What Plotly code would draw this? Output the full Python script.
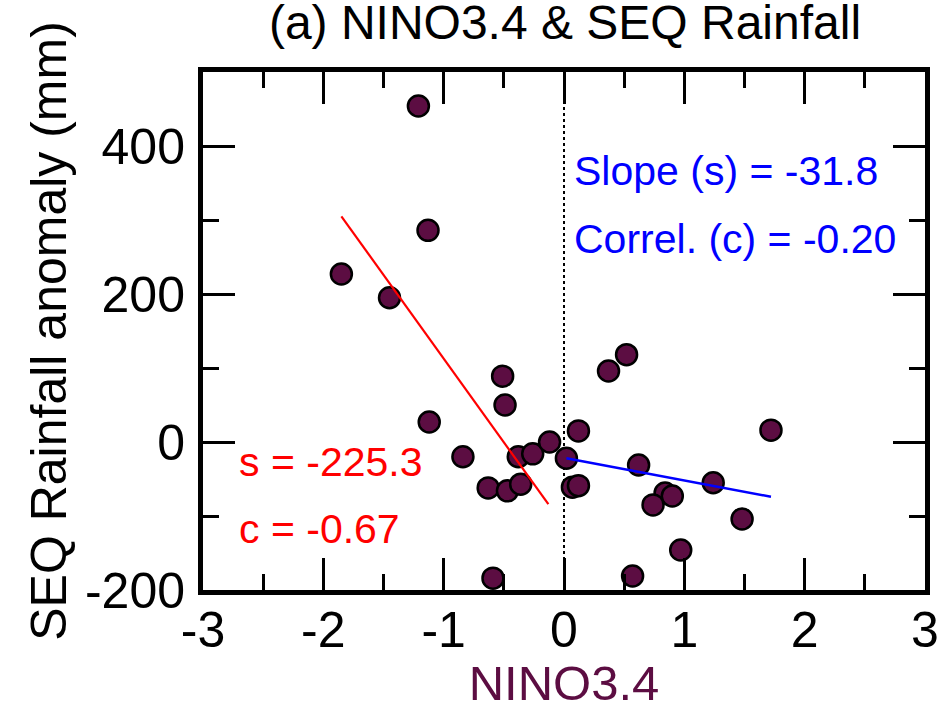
import plotly.graph_objects as go

# Data
nino34 = [-1.21, -1.13, -1.85, -1.45, -1.12, -0.51, -0.49, -0.84, -0.63, -0.47,
          -0.36, -0.38, -0.26, -0.12, 0.02, 0.12, 0.07, 0.12, -0.59, 0.52,
          0.37, 0.62, 1.24, 0.84, 0.90, 0.74, 1.48, 0.97, 0.57, 1.72]
rain = [454, 286, 227, 195, 27, 89, 50, -20, -62, -66,
        -57, -20, -16, 0, -22, 15, -61, -59, -184, 118,
        96, -31, -55, -69, -73, -85, -104, -146, -181, 16]

# Regression line endpoints (La Nina side red, El Nino side blue)
neg_fit_x = [-1.85, -0.13]
neg_fit_y = [305, -84]
pos_fit_x = [0.02, 1.72]
pos_fit_y = [-22, -74]

zero_x = [0, 0]
zero_y = [-200, 460]

xticks = [-3, -2, -1, 0, 1, 2, 3]
yticks = [-200, 0, 200, 400]

FONT = "Liberation Sans, Arial, Helvetica, sans-serif"
PURPLE = "#5c0d42"

fig = go.Figure()
fig.add_trace(go.Scatter(x=zero_x, y=zero_y, mode="lines",
                         line=dict(color="black", width=2, dash="dot"),
                         showlegend=False, hoverinfo="skip"))
fig.add_trace(go.Scatter(x=nino34, y=rain, mode="markers",
                         marker=dict(size=21, color=PURPLE,
                                     line=dict(color="black", width=2.5)),
                         showlegend=False))
fig.add_trace(go.Scatter(x=neg_fit_x, y=neg_fit_y, mode="lines",
                         line=dict(color="#ff0000", width=2.2), showlegend=False))
fig.add_trace(go.Scatter(x=pos_fit_x, y=pos_fit_y, mode="lines",
                         line=dict(color="#0000ff", width=2.5), showlegend=False))

ann_font = dict(family=FONT, size=41)
fig.add_annotation(x=0.07, y=366, text="Slope (s) = -31.8", showarrow=False,
                   xanchor="left", yanchor="middle", font=dict(ann_font, color="#0000ff"))
fig.add_annotation(x=0.07, y=274, text="Correl. (c) = -0.20", showarrow=False,
                   xanchor="left", yanchor="middle", font=dict(ann_font, color="#0000ff"))
fig.add_annotation(x=-2.72, y=-27, text="s = -225.3", showarrow=False,
                   xanchor="left", yanchor="middle", font=dict(ann_font, color="#ff0000"))
fig.add_annotation(x=-2.72, y=-118, text="c = -0.67", showarrow=False,
                   xanchor="left", yanchor="middle", font=dict(ann_font, color="#ff0000"))

fig.update_layout(
    width=942, height=710,
    margin=dict(l=203, r=17, t=72, b=120, autoexpand=False),
    paper_bgcolor="white", plot_bgcolor="white",
    font=dict(family=FONT, color="black"),
    title=dict(text="(a) NINO3.4 & SEQ Rainfall", x=565 / 942, xanchor="center",
               y=1 - 22 / 710, yanchor="middle", yref="container",
               font=dict(family=FONT, size=48, color="black")),
)
fig.update_xaxes(
    range=[-3, 3], tickvals=xticks, ticktext=[str(v) for v in xticks],
    showgrid=False, zeroline=False, automargin=False,
    showline=True, linecolor="black", linewidth=5, mirror="allticks",
    ticks="inside", ticklen=32, tickwidth=2.5, tickcolor="black",
    minor=dict(dtick=0.5, tick0=0, ticks="inside", ticklen=16, tickwidth=2.5, tickcolor="black"),
    tickfont=dict(family=FONT, size=50), ticklabelstandoff=-8,
    title=dict(text="NINO3.4", font=dict(family=FONT, size=49, color=PURPLE), standoff=16),
)
fig.update_yaxes(
    range=[-200, 500], tickvals=yticks, ticktext=[str(v) for v in yticks],
    showgrid=False, zeroline=False, automargin=False,
    showline=True, linecolor="black", linewidth=5, mirror="allticks",
    ticks="inside", ticklen=32, tickwidth=2.5, tickcolor="black",
    minor=dict(dtick=100, tick0=0, ticks="inside", ticklen=16, tickwidth=2.5, tickcolor="black"),
    tickfont=dict(family=FONT, size=50), ticklabelstandoff=3,
    title=dict(text="SEQ Rainfall anomaly (mm)", font=dict(family=FONT, size=50, color="black"), standoff=4),
)

fig.write_html("out.html")
